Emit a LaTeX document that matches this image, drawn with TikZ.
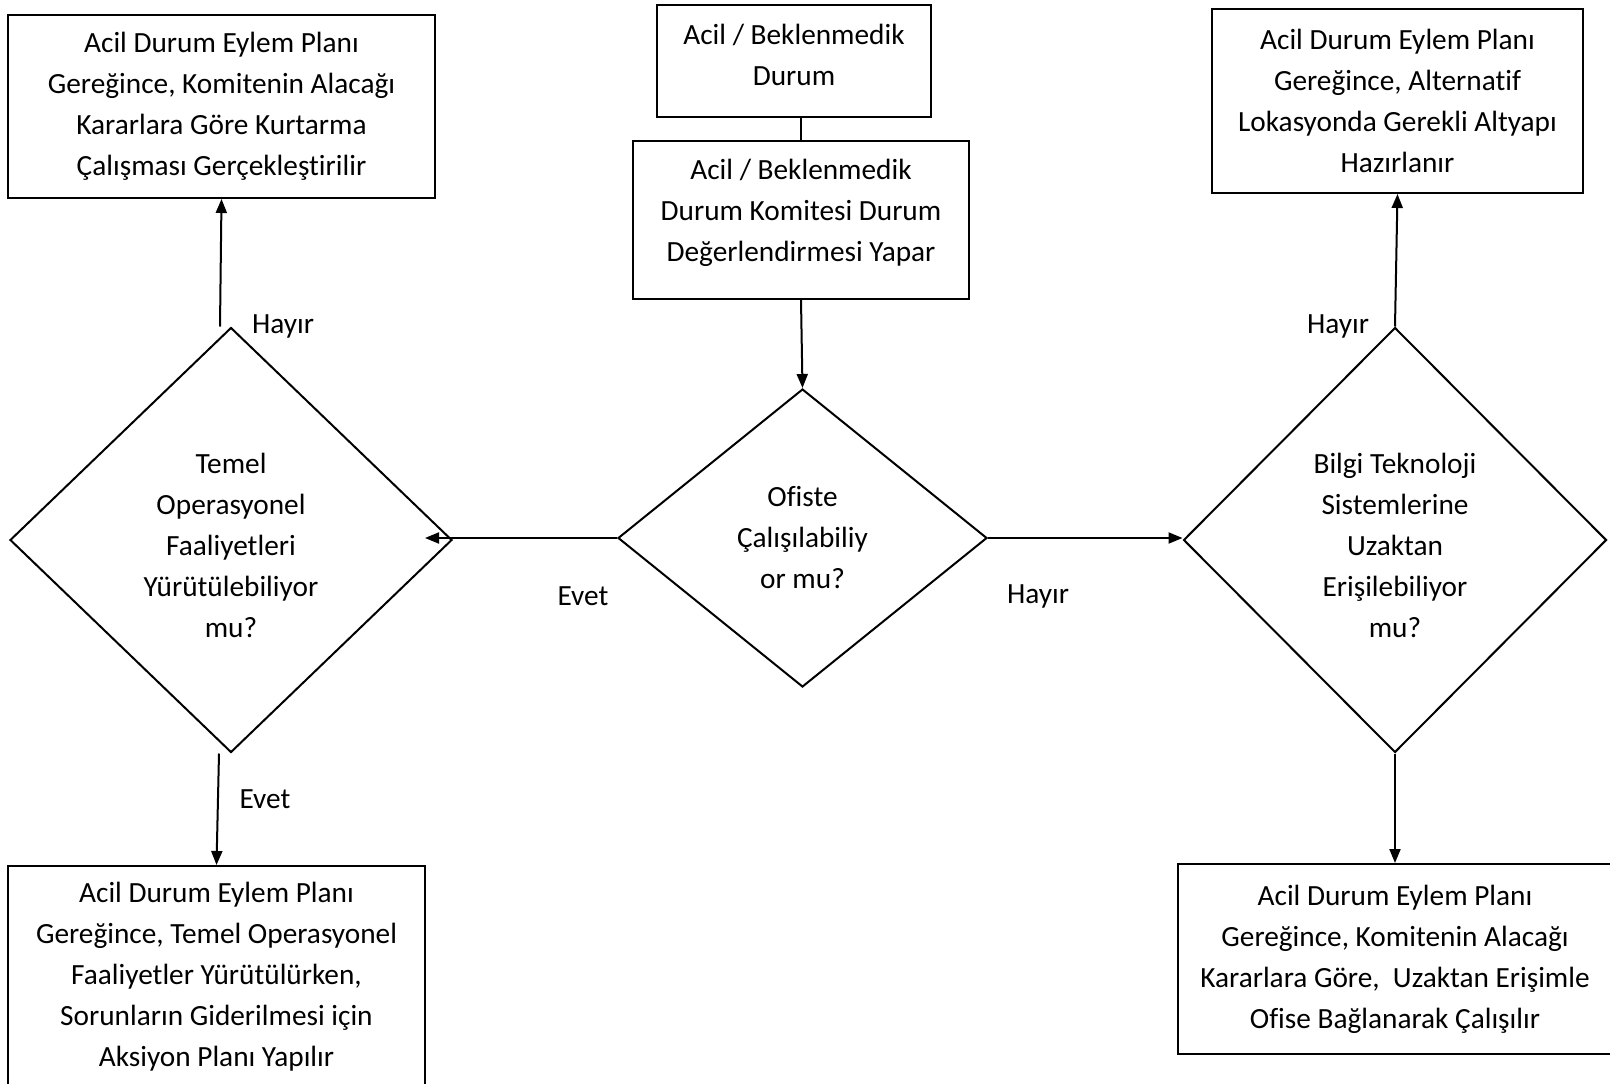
\documentclass[tikz,border=0pt]{standalone}
\usepackage{fontspec}
\setmainfont{Carlito}[RawFeature={-liga;-clig}]
\usetikzlibrary{shapes.geometric,arrows.meta}
\tikzset {>={Triangle[length=14pt,width=11pt]}}
\tikzset{
  box/.style={draw, line width=2pt, align=center, inner sep=0pt},
  decision/.style={draw, shape=diamond, aspect=1, line width=2pt, align=center, inner sep=0pt},
  flow/.style={->, line width=2pt},
  answer/.style={inner sep=0pt}
}
% struts to nudge text inside a shape
\newcommand\padtop[1]{\rule{0pt}{#1}}
\newcommand\padbot[1]{\rule[-#1]{0pt}{#1}}

\begin{document}
\begin{tikzpicture}[x=1pt,y=-1pt,font=\fontsize{29.3}{41}\selectfont]
\useasboundingbox (0,0) rectangle (1610,1084);

% Start and committee boxes
\node[box,minimum width=274pt,minimum height=112pt] (start) at (794,61) {Acil / Beklenmedik\\Durum\padbot{12pt}};
\node[box,minimum width=336pt,minimum height=158pt] (committee) at (801,220) {Acil / Beklenmedik\\Durum Komitesi Durum\\Değerlendirmesi Yapar\padbot{19pt}};

% Decisions
\node[decision,minimum width=369pt,minimum height=298pt] (office) at (802.5,538) {Ofiste\\Çalışılabiliy\\or mu?};
\node[decision,minimum width=442pt,minimum height=425pt] (ops) at (231,540) {\padtop{32pt}Temel\\Operasyonel\\Faaliyetleri\\Yürütülebiliyor\\mu?};
\node[decision,minimum width=423pt,minimum height=425pt] (remoteq) at (1395,540) {\padtop{32pt}Bilgi Teknoloji\\Sistemlerine\\Uzaktan\\Erişilebiliyor\\mu?};

% Outcome boxes
\node[box,minimum width=427pt,minimum height=183pt] (recovery) at (221.5,106.5) {Acil Durum Eylem Planı\\Gereğince, Komitenin Alacağı\\Kararlara Göre Kurtarma\\Çalışması Gerçekleştirilir};
\node[box,minimum width=417pt,minimum height=222pt] (opsplan) at (216.5,977) {Acil Durum Eylem Planı\\Gereğince, Temel Operasyonel\\Faaliyetler Yürütülürken,\\Sorunların Giderilmesi için\\Aksiyon Planı Yapılır};
\node[box,minimum width=371pt,minimum height=184pt] (altsite) at (1397.5,101) {Acil Durum Eylem Planı\\Gereğince, Alternatif\\Lokasyonda Gerekli Altyapı\\Hazırlanır};
\node[box,minimum width=434pt,minimum height=190pt] (remote) at (1395,959) {Acil Durum Eylem Planı\\Gereğince, Komitenin Alacağı\\Kararlara Göre, \ Uzaktan Erişimle\\Ofise Bağlanarak Çalışılır};

% Connectors
\draw [line width=2pt] (committee.north) -- (committee.north |- start.south);
\draw [flow] (committee.south) -- (office.north);
\draw [flow,shorten >=-28pt] (office.west) -- (office.west -| ops.east);
\draw [flow] (office.east) -- (office.east -| remoteq.west);
\draw [flow] ([xshift=-11pt]ops.north) -- (recovery.south);
\draw [flow] ([xshift=-12pt]ops.south) -- (opsplan.north);
\draw [flow] (remoteq.north) -- (altsite.south);
\draw [flow] (remoteq.south) -- (remote.north);

% Answers
\node[answer] (no-ops) at (283,326) {Hayır};
\node[answer] (yes-ops) at (265,799) {Evet};
\node[answer] (yes-office) at (583,596) {Evet};
\node[answer] (no-office) at (1038,596) {Hayır};
\node[answer] (no-remote) at (1338,326) {Hayır};

\end{tikzpicture}
\end{document}
